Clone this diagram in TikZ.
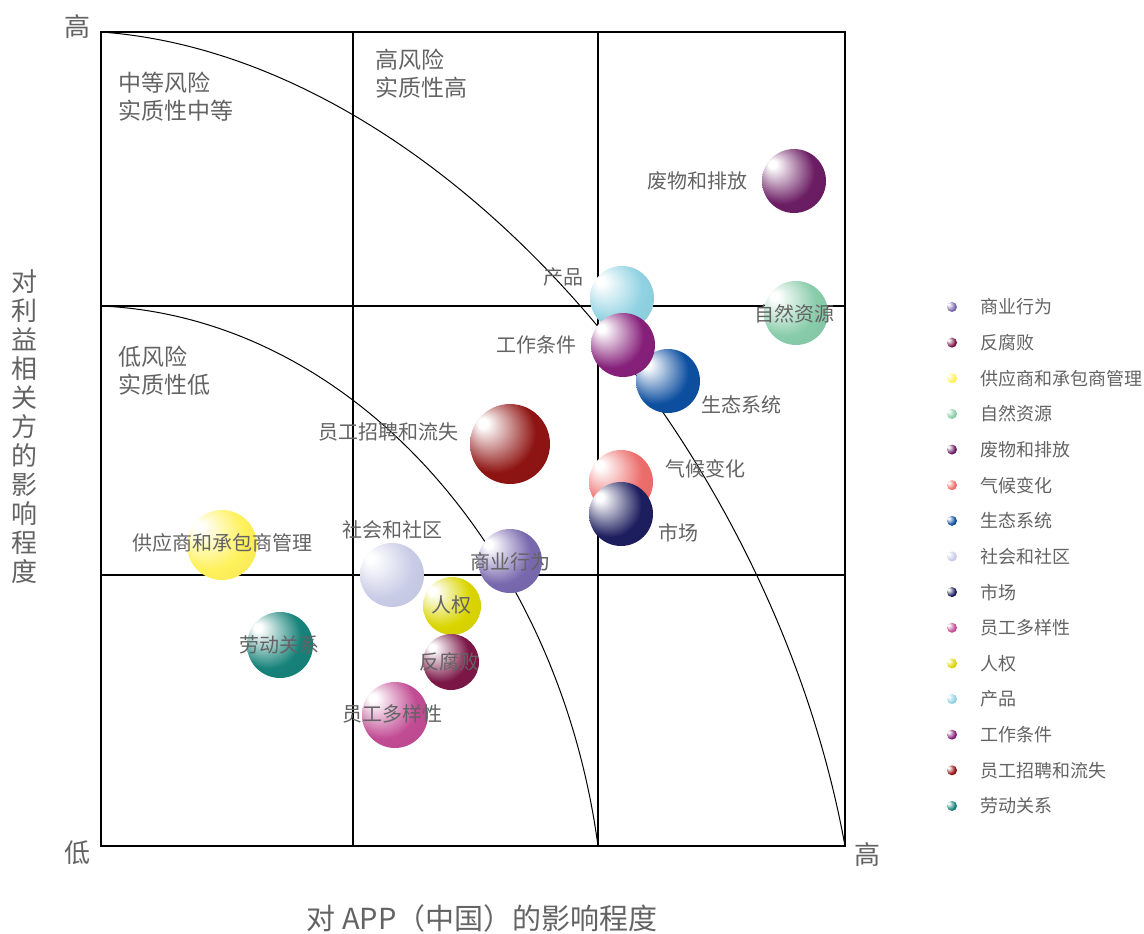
\documentclass[tikz,border=0pt]{standalone}
\usepackage{fontspec}
\setmainfont{Noto Sans CJK SC}
\usepackage{xcolor}
\usepackage{tikz}
\usetikzlibrary{positioning}

\definecolor{txtgray}{HTML}{636363}
\definecolor{cBiz}{HTML}{7868AE}
\definecolor{cAnti}{HTML}{7B1747}
\definecolor{cSup}{HTML}{FFF15A}
\definecolor{cNat}{HTML}{88CCAA}
\definecolor{cWaste}{HTML}{6B1D63}
\definecolor{cClim}{HTML}{EC6E6C}
\definecolor{cEco}{HTML}{0D4FA0}
\definecolor{cComm}{HTML}{C9CCE6}
\definecolor{cMkt}{HTML}{1D1E5E}
\definecolor{cDiv}{HTML}{C14C94}
\definecolor{cRight}{HTML}{DAD500}
\definecolor{cProd}{HTML}{90D2E2}
\definecolor{cWork}{HTML}{86207A}
\definecolor{cRecr}{HTML}{8E1412}
\definecolor{cLab}{HTML}{168279}

\colorlet{bubcol}{white}
\pgfdeclareradialshading[bubcol]{bubble}{\pgfqpoint{-18bp}{14bp}}{%
  color(0bp)=(white); color(3bp)=(white); color(25bp)=(bubcol);
  color(50bp)=(bubcol!92!black)}

\tikzset{
  ball/.style={circle, inner sep=0pt, shade, shading=bubble,
    /utils/exec={\colorlet{bubcol}{#1}}},
}

\begin{document}
\begin{tikzpicture}[x=1pt, y=-1pt]
        % Styles
        \tikzstyle{lbl} = [inner sep=0pt, text=txtgray,
        font=\fontsize{20}{20}\selectfont]
        \tikzstyle{zone} = [inner sep=0pt, text=txtgray, align=left, anchor=west,
        font=\fontsize{23}{28}\selectfont]
        \tikzstyle{tick} = [inner sep=0pt, text=txtgray,
        font=\fontsize{26}{26}\selectfont]
        \tikzstyle{legtext} = [inner sep=0pt, text=txtgray, anchor=west,
        font=\fontsize{18}{18}\selectfont]

        \useasboundingbox (0,0) rectangle (1144,934);

        % Grid
        \draw[line width=1.2pt] (101,32) rectangle (845,846);
        \draw[line width=1.1pt] (353,32) -- (353,846);
        \draw[line width=1.1pt] (598,32) -- (598,846);
        \draw[line width=1.1pt] (101,306) -- (845,306);
        \draw[line width=1.1pt] (101,575) -- (845,575);

        % Curves
        \draw[line width=1pt] (101,32) .. controls (436,56) and (771,439) .. (845,846);
        \draw[line width=1pt] (101,306) .. controls (350,317) and (558,549) .. (598,846);

        % Zones
        \node (midzone)  [zone] at (118,97)  {中等风险\\实质性中等};
        \node (highzone) [zone] at (375,74)  {高风险\\实质性高};
        \node (lowzone)  [zone] at (118,371) {低风险\\实质性低};

        % Bubbles
        \node (waste)     [ball=cWaste, minimum size=64pt] at (794,181) {};
        \node (nature)    [ball=cNat,   minimum size=64pt] at (796,313) {};
        \node (ecosys)    [ball=cEco,   minimum size=64pt] at (668,381) {};
        \node (product)   [ball=cProd,  minimum size=64pt] at (622,298) {};
        \node (work)      [ball=cWork,  minimum size=64pt] at (623,345) {};
        \node (recruit)   [ball=cRecr,  minimum size=80pt] at (510,444) {};
        \node (climate)   [ball=cClim,  minimum size=64pt] at (621,482) {};
        \node (market)    [ball=cMkt,   minimum size=64pt] at (621,514) {};
        \node (supply)    [ball=cSup,   minimum size=70pt] at (222,545) {};
        \node (community) [ball=cComm,  minimum size=64pt] at (392,575) {};
        \node (business)  [ball=cBiz,   minimum size=64pt] at (510,561) {};
        \node (rights)    [ball=cRight, minimum size=58pt] at (452,606) {};
        \node (labour)    [ball=cLab,   minimum size=66pt] at (280,645) {};
        \node (anticorr)  [ball=cAnti,  minimum size=56pt] at (451,662) {};
        \node (diversity) [ball=cDiv,   minimum size=66pt] at (395,715) {};

        % Labels
        \node (wastelbl)     [lbl, left=14pt of waste]  {废物和排放};
        \node (productlbl)   [lbl] at (563,277) {产品};
        \node (naturelbl)    [lbl] at (794,314) {自然资源};
        \node (worklbl)      [lbl, left=14pt of work]   {工作条件};
        \node (ecosyslbl)    [lbl] at (741,405) {生态系统};
        \node (recruitlbl)   [lbl] at (388,432) {员工招聘和流失};
        \node (climatelbl)   [lbl] at (705,469) {气候变化};
        \node (marketlbl)    [lbl] at (678,533) {市场};
        \node (supplylbl)    [lbl] at (222,543) {供应商和承包商管理};
        \node (communitylbl) [lbl] at (392,530) {社会和社区};
        \node (businesslbl)  [lbl] at (510,562) {商业行为};
        \node (rightslbl)    [lbl] at (451,605) {人权};
        \node (labourlbl)    [lbl] at (279,645) {劳动关系};
        \node (anticorrlbl)  [lbl] at (449,662) {反腐败};
        \node (diversitylbl) [lbl] at (392,714) {员工多样性};

        % Axes
        \node (yhigh) [tick] at (77,27)  {高};
        \node (ylow)  [tick] at (77,853) {低};
        \node (xhigh) [tick] at (867,855) {高};
        \node (ytitle) [tick, align=center, font=\fontsize{26}{29}\selectfont]
              at (25,427) {对\\利\\益\\相\\关\\方\\的\\影\\响\\程\\度};
        \node (xtitle) [tick, font=\fontsize{29}{29}\selectfont]
              at (482,918) {对 APP（中国）的影响程度};

        % Legend
        \foreach \name/\col [count=\i from 0] in {商业行为/cBiz, 反腐败/cAnti,
            供应商和承包商管理/cSup, 自然资源/cNat, 废物和排放/cWaste,
            气候变化/cClim, 生态系统/cEco, 社会和社区/cComm, 市场/cMkt,
            员工多样性/cDiv, 人权/cRight, 产品/cProd, 工作条件/cWork,
            员工招聘和流失/cRecr, 劳动关系/cLab} {
          \node (dot\i) [ball=\col, minimum size=10pt] at (952,307+35.64*\i) {};
          \node (leg\i) [legtext] at (980,307+35.64*\i) {\name};
        }

    \end{tikzpicture}
\end{document}
